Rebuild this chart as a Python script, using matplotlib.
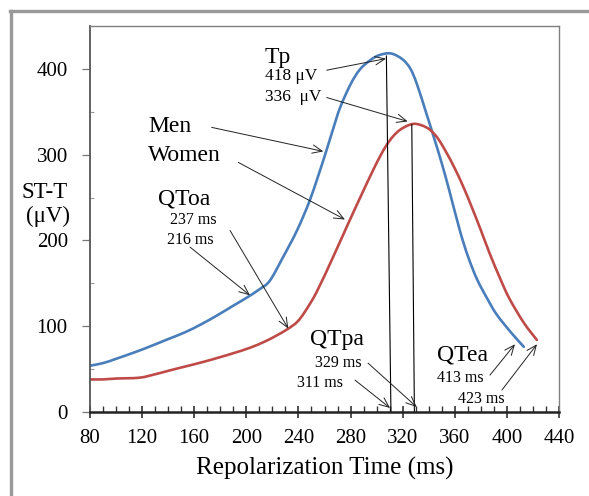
import matplotlib
matplotlib.use("Agg")
import numpy as np
import matplotlib.pyplot as plt
from matplotlib.lines import Line2D
from matplotlib.path import Path
from matplotlib.patches import PathPatch
from matplotlib.ticker import MultipleLocator

plt.rcParams['font.family'] = ['Liberation Serif', 'DejaVu Serif']

# ---- data ----
men_x = [80, 90, 100, 115, 127, 140, 153, 165, 178, 190, 200, 210, 218, 228, 239, 249,
         259, 266, 272, 280, 287, 295, 302, 311, 320, 326, 331, 338, 344, 350, 356, 364,
         370, 377, 385, 392, 403, 413]
men_y = [54, 57, 62, 70, 77, 85, 93, 102, 113, 124, 133, 143, 153, 180, 212, 248,
         293, 327, 355, 382, 399, 410, 416, 418, 411, 400, 382, 349, 320, 290, 257, 211,
         182, 155, 132, 114, 93, 76]

women_x = [80, 90, 100, 118, 130, 140, 153, 166, 180, 191, 203, 214, 223, 232, 239, 245,
           254, 267, 278, 288, 297, 303, 308, 313, 318, 324, 329, 335, 341, 347, 353, 360,
           367, 373, 380, 387, 395, 402, 413, 423]
women_y = [38, 38, 39, 40, 44, 48, 53, 58, 64, 69, 75, 82, 89, 97, 105, 117,
           140, 182, 219, 252, 281, 299, 312, 322, 329, 334, 336, 334, 329, 319, 304, 284,
           261, 239, 212, 184, 155, 132, 104, 84]

x_ticks = [80, 120, 160, 200, 240, 280, 320, 360, 400, 440]
y_ticks = [0, 100, 200, 300, 400]

tp_men, tp_women = 418, 336
qtpa_men, qtpa_women = 311, 329

BLUE = '#4A7EBB'
RED = '#BE4B48'


def smooth_path(xs, ys):
    """Excel-style smoothed line: cubic Bezier segments through the given points."""
    p = np.column_stack([xs, ys]).astype(float)
    n = len(p)
    verts = [p[0]]
    codes = [Path.MOVETO]
    for i in range(n - 1):
        p0 = p[i - 1] if i > 0 else p[i]
        p1 = p[i]
        p2 = p[i + 1]
        p3 = p[i + 2] if i + 2 < n else p[i + 1]
        c1 = p1 + (p2 - p0) / 6.0
        c2 = p2 - (p3 - p1) / 6.0
        verts += [c1, c2, p2]
        codes += [Path.CURVE4] * 3
    return Path(verts, codes)


fig = plt.figure(figsize=(5.89, 4.96), dpi=100)
ax = fig.add_axes([90/589, 1-412/496, 469/589, 386/496])

for xs, ys, c in [(men_x, men_y, BLUE), (women_x, women_y, RED)]:
    ax.add_patch(PathPatch(smooth_path(xs, ys), facecolor='none', edgecolor=c,
                           lw=1.9, capstyle='round', joinstyle='round'))

# vertical peak lines
ax.plot([307.5, qtpa_men], [tp_men - 3, 0], color='black', lw=0.8)
ax.plot([327, qtpa_women], [tp_women - 1, 0], color='black', lw=0.8)

ax.set_xlim(80, 440)
ax.set_ylim(0, 450)
ax.set_xticks(x_ticks)
ax.set_yticks(y_ticks)
ax.xaxis.set_minor_locator(MultipleLocator(10))
ax.yaxis.set_minor_locator(MultipleLocator(50))
ax.tick_params(axis='x', which='major', direction='inout', length=9, width=1.2,
               labelsize=15, pad=8, color='#333333')
ax.tick_params(axis='x', which='minor', direction='in', length=4, width=1.0, color='#333333')
ax.tick_params(axis='y', which='major', direction='out', length=6, width=0.9,
               labelsize=15, pad=10, color='#777777')
ax.tick_params(axis='y', which='minor', direction='in', length=3, width=0.8, color='#999999')

for s in ['top', 'right']:
    ax.spines[s].set_color('#808080')
    ax.spines[s].set_linewidth(1.0)
ax.spines['left'].set_color('#555555')
ax.spines['left'].set_linewidth(1.3)
ax.spines['bottom'].set_color('#222222')
ax.spines['bottom'].set_linewidth(1.8)

ax.set_xlabel('Repolarization Time (ms)', fontsize=18, labelpad=6)

# y label as two lines to the left of the axis
ax.text(45.5, 249, 'ST-T', fontsize=16.5, ha='center', va='baseline', clip_on=False)
ax.text(48.0, 221, '(μV)', fontsize=16.5, ha='center', va='baseline', clip_on=False)

BIG = 17
SMALL = 11.5
ax.text(214.3, 407, 'Tp', fontsize=BIG, ha='left', va='baseline')
ax.text(214.3, 387, '418 μV', fontsize=12.5, ha='left', va='baseline')
ax.text(214.3, 362.5, '336  μV', fontsize=12.5, ha='left', va='baseline')
ax.text(124.8, 326, 'Men', fontsize=BIG, ha='left', va='baseline')
ax.text(124.8, 293, 'Women', fontsize=BIG, ha='left', va='baseline')
ax.text(132.4, 242, 'QToa', fontsize=BIG, ha='left', va='baseline')
ax.text(141.4, 218.6, '237 ms', fontsize=SMALL, ha='left', va='baseline')
ax.text(138.9, 196, '216 ms', fontsize=SMALL, ha='left', va='baseline')
ax.text(248.9, 78, 'QTpa', fontsize=BIG, ha='left', va='baseline')
ax.text(252.7, 52.7, '329 ms', fontsize=SMALL, ha='left', va='baseline')
ax.text(238.7, 29.5, '311 ms', fontsize=SMALL, ha='left', va='baseline')
ax.text(346.1, 60.5, 'QTea', fontsize=BIG, ha='left', va='baseline')
ax.text(346.1, 35.3, '413 ms', fontsize=SMALL, ha='left', va='baseline')
ax.text(362.7, 10.8, '423 ms', fontsize=SMALL, ha='left', va='baseline')

arrows = [
    ((261.7, 398.5), (307.2, 412)),
    ((261.7, 366.6), (323.9, 338.7)),
    ((173.4, 331.8), (259.1, 303.8)),
    ((193.8, 291.0), (275.7, 224.4)),
    ((156.8, 192.2), (202.8, 136.0)),
    ((187.5, 211.6), (232.2, 97.3)),
    ((283.4, 37.2), (310.3, 4.7)),
    ((293.4, 57.0), (330.8, 5.8)),
    ((387.0, 43.0), (406.2, 79.0)),
    ((396.2, 25.6), (423.1, 79.0)),
]
for start, tip in arrows:
    ax.annotate('', xy=tip, xytext=start,
                arrowprops=dict(arrowstyle='->,head_length=0.7,head_width=0.3',
                                color='#222222', lw=0.7, shrinkA=0, shrinkB=0))

# grey outer frame (top and left edges)
fig.add_artist(Line2D([10.5/589, 10.5/589], [0, 1-11/496], transform=fig.transFigure,
                      color='#999999', lw=2.4))
fig.add_artist(Line2D([9.5/589, 1], [1-11/496, 1-11/496], transform=fig.transFigure,
                      color='#999999', lw=2.4))

fig.savefig('out.png', dpi=100)
